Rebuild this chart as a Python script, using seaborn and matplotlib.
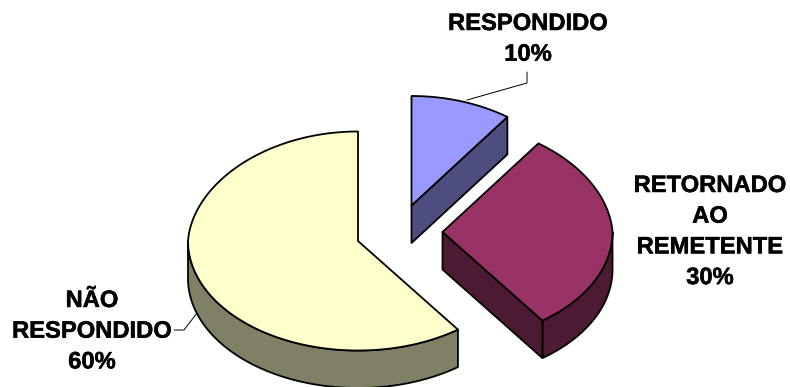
import numpy as np
import matplotlib
matplotlib.use("Agg")
import matplotlib.pyplot as plt
import matplotlib.patheffects as pe
import seaborn as sns

# Survey outcome shares, clockwise from twelve o'clock
categories = ["RESPONDIDO", "RETORNADO\nAO\nREMETENTE", "NÃO\nRESPONDIDO"]
shares = [10, 30, 60]
top_colours = ["#9999FF", "#993366", "#FFFFCC"]

# Wedge placement in figure pixels
apex_x = [411.5, 442.5, 358.0]
apex_y = [205.5, 232.0, 241.0]
RX, RY, DEPTH = 170.0, 109.5, 37.5
FAR_SIDE_NARROWING = 0.05

# Label anchor: centre x and first baseline y
label_x = [528, 710, 92]
label_y = [30, 192, 307]
LINE_STEP = 30.7

# Leader lines
leader_x = [[467, 527, 527], [174, 184, 197]]
leader_y = [[100, 83, 72], [330, 330, 313]]

sns.set_theme(style="white")
plt.rcParams["font.family"] = ["Liberation Sans", "DejaVu Sans"]

palette = sns.color_palette(top_colours)
side_colours = [tuple(v * 0.5 for v in c) for c in palette]

fig = plt.figure(figsize=(7.9, 3.87), dpi=100)
ax = fig.add_axes([0, 0, 1, 1])


def rim(theta_deg, cx, cy):
    """Point(s) on a wedge's top rim; theta runs clockwise from straight up."""
    t = np.radians(theta_deg)
    narrowing = 1 - FAR_SIDE_NARROWING * np.clip(np.cos(t), 0, None)
    return cx + RX * np.sin(t) * narrowing, cy - RY * np.cos(t)


EDGE = dict(edgecolor="black", linewidth=1.3, joinstyle="round")

ends = np.cumsum(shares) / np.sum(shares) * 360
starts = np.concatenate([[0], ends[:-1]])

# Painter's order: the large wedge first, then the exploded ones over it
for i in [2, 0, 1]:
    start, end = starts[i], ends[i]
    cx, cy = apex_x[i], apex_y[i]

    # Outer wall: only the part of the rim facing the viewer
    lo, hi = max(start, 90), min(end, 270)
    if hi > lo:
        th = np.linspace(lo, hi, 120)
        x, y = rim(th, cx, cy)
        ax.fill(np.r_[x, x[::-1]], np.r_[y, y[::-1] + DEPTH],
                facecolor=side_colours[i], zorder=i * 3 + 1, **EDGE)

    # Flat cut face along the clockwise edge when it faces the viewer
    if end < 180:
        ex, ey = rim(end, cx, cy)
        ax.fill([cx, ex, ex, cx], [cy, ey, ey + DEPTH, cy + DEPTH],
                facecolor=side_colours[i], zorder=i * 3 + 1, **EDGE)

    # Top surface
    th = np.linspace(start, end, 240)
    x, y = rim(th, cx, cy)
    ax.fill(np.r_[cx, x], np.r_[cy, y],
            facecolor=palette[i], zorder=i * 3 + 2, **EDGE)

for xs, ys in zip(leader_x, leader_y):
    sns.lineplot(x=xs, y=ys, ax=ax, color="black", linewidth=0.7,
                 sort=False, estimator=None, legend=False, zorder=20)
ax.set_xlim(0, 790)
ax.set_ylim(387, 0)
ax.axis("off")

heavier = [pe.withStroke(linewidth=0.35, foreground="black")]
for name, share, lx, ly in zip(categories, shares, label_x, label_y):
    for k, line in enumerate(name.split("\n") + [f"{share}%"]):
        ax.text(lx, ly + k * LINE_STEP, line, ha="center", va="baseline",
                fontsize=17.1, fontweight="bold", color="black", zorder=30,
                path_effects=heavier)

fig.savefig("out.png", dpi=100, facecolor="white")
